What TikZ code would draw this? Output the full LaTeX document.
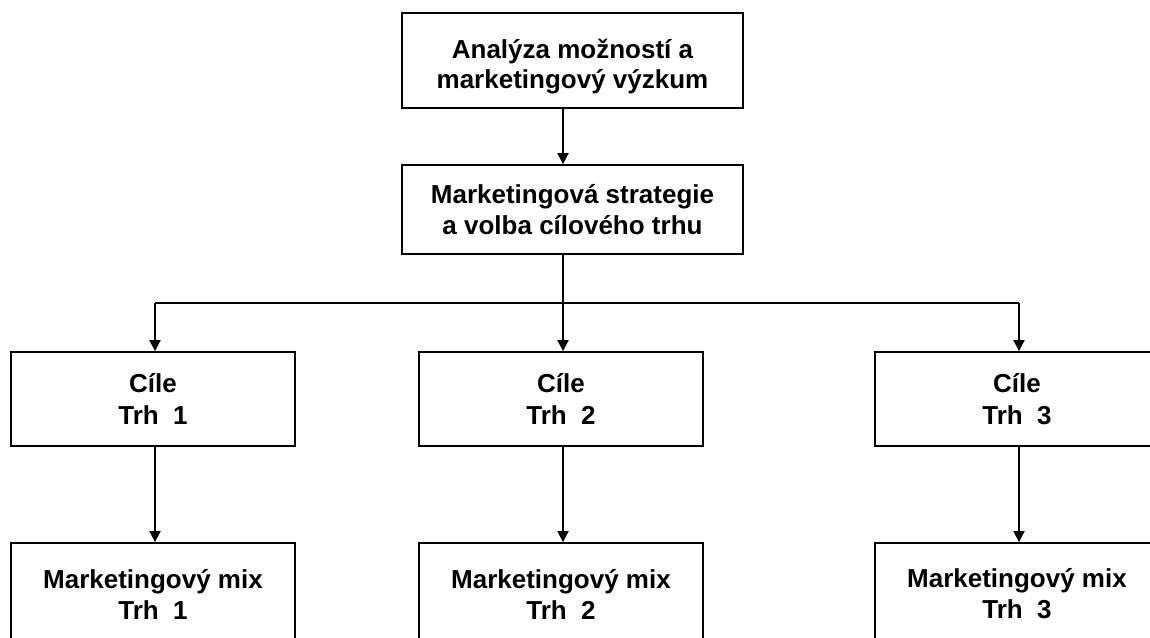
\documentclass[tikz,border=0pt]{standalone}
\usepackage{fontspec}
\setmainfont{Liberation Sans}
\usetikzlibrary{arrows.meta}
\begin{document}
\begin{tikzpicture}[x=1pt,y=-1pt,
  box/.style={draw, line width=1.8pt, fill=white, align=center,
    font=\bfseries\fontsize{26}{31}\selectfont, inner sep=0pt, minimum width=284pt},
  txt/.style={align=center, font=\bfseries\fontsize{26}{30}\selectfont, inner sep=0pt},
  cilebox/.style={box, font=\bfseries\fontsize{26}{32}\selectfont, minimum height=94pt},
  mixbox/.style={box, minimum height=102pt},
  conn/.style={line width=1.8pt},
  arr/.style={conn, -{Triangle[length=11pt,width=11pt]}}]
\useasboundingbox (0,0) rectangle (1150,637);
\clip (0,0) rectangle (1150,637);
\node[box, minimum width=341pt, minimum height=95pt] (ana) at (572.5,60.5) {};
\node[txt] (anatext) at (572.5,67) {Analýza možností a\\marketingový výzkum};
\node[box, minimum width=341pt, minimum height=89pt] (strat) at (572.5,209.5) {Marketingová strategie\\a volba cílového trhu};
\node[cilebox] (c1) at (153,399) {Cíle\\Trh\ \ 1};
\node[cilebox] (c2) at (561,399) {Cíle\\Trh\ \ 2};
\node[cilebox] (c3) at (1017,399) {Cíle\\Trh\ \ 3};
\node[mixbox] (m1) at (153,594) {Marketingový mix\\Trh\ \ 1};
\node[mixbox] (m2) at (561,594) {Marketingový mix\\Trh\ \ 2};
\node[mixbox] (m3) at (1017,594) {Marketingový mix\\Trh\ \ 3};
\coordinate (xa) at (563,0);
\coordinate (xl) at (155,0);
\coordinate (xr) at (1019,0);
\coordinate (bus) at (0,303);
\draw[arr] (ana.south -| xa) -- (strat.north -| xa);
\draw[conn] (strat.south -| xa) -- (bus -| xa);
\draw[conn] (bus -| xl) -- (bus -| xr);
\draw[arr] (bus -| xl) -- (c1.north -| xl);
\draw[arr] (bus -| xa) -- (c2.north -| xa);
\draw[arr] (bus -| xr) -- (c3.north -| xr);
\draw[arr] (c1.south -| xl) -- (m1.north -| xl);
\draw[arr] (c2.south -| xa) -- (m2.north -| xa);
\draw[arr] (c3.south -| xr) -- (m3.north -| xr);
\end{tikzpicture}
\end{document}
